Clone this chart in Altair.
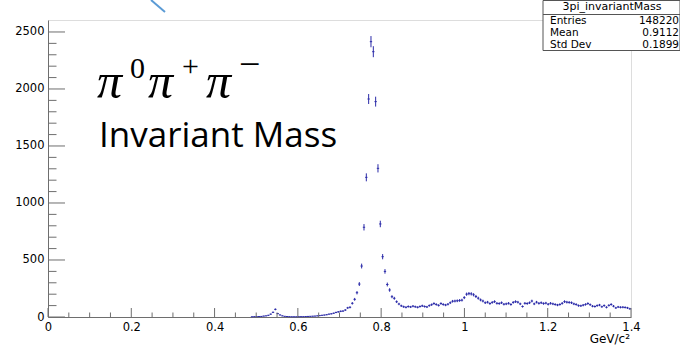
import altair as alt
import pandas as pd

# ---------------- data ----------------
X_MIN, X_MAX = 0.0, 1.4
N_BINS = 250
FIRST_BIN = 87  # index of first non-empty bin shown
counts = [
    2, 3, 3, 4, 5, 8, 10, 15, 25, 41,          # 87-96
    67, 30, 18, 10, 6, 4, 3, 2, 2, 2,          # 97-106
    3, 3, 3, 4, 5, 6, 7, 8, 10, 12,            # 107-116
    15, 17, 20, 25, 28, 33, 40, 45, 50, 52,    # 117-126
    61, 80, 85, 120, 155, 213, 289, 447, 787, 1225,   # 127-136
    1912, 2415, 2327, 1889, 1304, 816, 529, 400, 285, 237,  # 137-146
    178, 164, 134, 114, 98, 90, 85, 92, 88, 95,   # 147-156
    90, 85, 92, 98, 92, 88, 100, 108, 118, 110,   # 157-166
    102, 118, 110, 105, 112, 125, 138, 140, 142, 145,  # 167-176
    148, 170, 200, 205, 203, 195, 180, 165, 150, 140,  # 177-186
    125, 130, 118, 128, 135, 120, 118, 125, 112, 115,  # 187-196
    120, 110, 128, 135, 130, 115, 92, 120, 118, 125,   # 197-206
    140, 115, 130, 120, 125, 118, 122, 112, 120, 115,  # 207-216
    110, 105, 110, 120, 135, 130, 128, 125, 115, 110,  # 217-226
    100, 98, 104, 110, 118, 108, 95, 92, 100, 105,     # 227-236
    90, 100, 85, 102, 110, 95, 80, 88, 85, 86,         # 237-246
    84, 80, 72,                                        # 247-249
]
bin_width = (X_MAX - X_MIN) / N_BINS
centers = [X_MIN + (FIRST_BIN + i + 0.5) * bin_width for i in range(len(counts))]

x_major = [0, 0.2, 0.4, 0.6, 0.8, 1.0, 1.2, 1.4]
x_minor = [0.05, 0.1, 0.15, 0.25, 0.3, 0.35, 0.45, 0.5, 0.55, 0.65, 0.7, 0.75,
           0.85, 0.9, 0.95, 1.05, 1.1, 1.15, 1.25, 1.3, 1.35]
y_major = [0, 500, 1000, 1500, 2000, 2500]
y_minor = [100, 200, 300, 400, 600, 700, 800, 900, 1100, 1200, 1300, 1400,
           1600, 1700, 1800, 1900, 2100, 2200, 2300, 2400]
Y_MAX = 2605

stat_title = "3pi_invariantMass"
stat_names = ["Entries", "Mean", "Std Dev"]
stat_values = ["148220", "0.9112", "0.1899"]

# ---------------- layout ----------------
W, H = 583, 297
LEFT, TOP = 48, 20
BLUE = "#2a2aa8"
FRAME = "#6e6e6e"

hist = pd.DataFrame({"x": centers, "n": counts})
xs = alt.Scale(domain=[X_MIN, X_MAX], nice=False, zero=False)
ys = alt.Scale(domain=[0, Y_MAX], nice=False, zero=True)

x_axis = alt.Axis(values=x_major, format="~g", ticks=False, grid=False, domain=True,
                  domainColor=FRAME, labelFont="DejaVu Sans", labelFontSize=11.5,
                  labelColor="black", labelPadding=4, labelFlush=False,
                  labelOverlap=False, labelBound=False, title=None)
y_axis = alt.Axis(values=y_major, format="d", ticks=False, grid=False, domain=True,
                  domainColor=FRAME, labelFont="DejaVu Sans", labelFontSize=11.5,
                  labelColor="black", labelPadding=4, labelFlush=False,
                  labelOverlap=False, labelBound=False, title=None)

base = alt.Chart(hist).transform_calculate(
    lo="max(datum.n - sqrt(datum.n), 0)",
    hi="datum.n + sqrt(datum.n)",
    xl=f"datum.x - {bin_width / 2}",
    xr=f"datum.x + {bin_width / 2}",
)

vbars = base.mark_rule(color=BLUE, strokeWidth=1).encode(
    x=alt.X("x:Q", scale=xs, axis=x_axis),
    y=alt.Y("lo:Q", scale=ys, axis=y_axis),
    y2="hi:Q",
)
hbars = base.mark_rule(color=BLUE, strokeWidth=1).encode(
    x=alt.X("xl:Q", scale=xs, axis=x_axis),
    x2="xr:Q",
    y=alt.Y("n:Q", scale=ys, axis=y_axis),
)

def yticks(vals, length):
    return alt.Chart(pd.DataFrame({"v": vals})).mark_rule(color=FRAME, strokeWidth=1).encode(
        y=alt.Y("v:Q", scale=ys, axis=y_axis), x=alt.value(0), x2=alt.value(length))

def xticks(vals, length):
    return alt.Chart(pd.DataFrame({"v": vals})).mark_rule(color=FRAME, strokeWidth=1).encode(
        x=alt.X("v:Q", scale=xs, axis=x_axis), y=alt.value(H), y2=alt.value(H - length))

def label(text, px, py, **kw):
    return alt.Chart(pd.DataFrame({"t": [text]})).mark_text(**kw).encode(
        text="t:N", x=alt.value(px - LEFT), y=alt.value(py - TOP))

serif_i = dict(font="Liberation Serif", fontStyle="italic", fontSize=50,
               align="left", baseline="alphabetic", color="black")
serif_s = dict(font="Liberation Serif", fontSize=30, align="left",
               baseline="alphabetic", color="black")

texts = [
    label("π", 97, 98, **serif_i),
    label("0", 130, 78, **serif_s),
    label("π", 148, 98, **serif_i),
    label("+", 182, 76, **serif_s),
    label("π", 206, 98, **serif_i),
    label("−", 239, 77, font="Liberation Serif", fontSize=38, align="left",
          baseline="alphabetic", color="black"),
    label("Invariant Mass", 99, 147, font="Open Sans", fontSize=35,
          align="left", baseline="alphabetic", color="black"),
    label("GeV/c²", 630, 343, font="DejaVu Sans", fontSize=12,
          align="right", baseline="alphabetic", color="black"),
]

# statistics box
box = alt.Chart(pd.DataFrame({"a": [0]})).mark_rect(
    fill="white", stroke="#555555", strokeWidth=1).encode(
    x=alt.value(543 - LEFT), x2=alt.value(680 - LEFT),
    y=alt.value(0.5 - TOP), y2=alt.value(50.5 - TOP))
box_line = alt.Chart(pd.DataFrame({"a": [0]})).mark_rule(color="#555555").encode(
    x=alt.value(543 - LEFT), x2=alt.value(680 - LEFT), y=alt.value(14.5 - TOP))
stat_font = dict(font="DejaVu Sans", baseline="middle", color="black")
stat_texts = [label(stat_title, 612, 6.5, align="center", fontSize=11, **stat_font)]
for i, (nm, vl) in enumerate(zip(stat_names, stat_values)):
    yc = 20.5 + i * 12
    stat_texts.append(label(nm, 550, yc, align="left", fontSize=10.5, **stat_font))
    stat_texts.append(label(vl, 679, yc, align="right", fontSize=10.5, **stat_font))

stroke_mark = alt.Chart(pd.DataFrame({"a": [0]})).mark_rule(
    color="#5b9bd5", strokeWidth=2).encode(
    x=alt.value(151 - LEFT), x2=alt.value(165 - LEFT),
    y=alt.value(0 - TOP), y2=alt.value(12 - TOP))

chart = alt.layer(
    vbars, hbars,
    yticks(y_major, 17), yticks(y_minor, 8.5),
    xticks(x_major, 9), xticks(x_minor, 4.5),
    *texts, box, box_line, *stat_texts, stroke_mark,
).properties(
    width=W, height=H,
    autosize=alt.AutoSizeParams(type="none"),
    padding={"left": LEFT, "top": TOP, "right": 680 - LEFT - W, "bottom": 346 - TOP - H},
).configure_view(stroke=FRAME, strokeWidth=1).configure(background="white")

chart.save("out.html", embed_options={"renderer": "svg", "actions": False})
